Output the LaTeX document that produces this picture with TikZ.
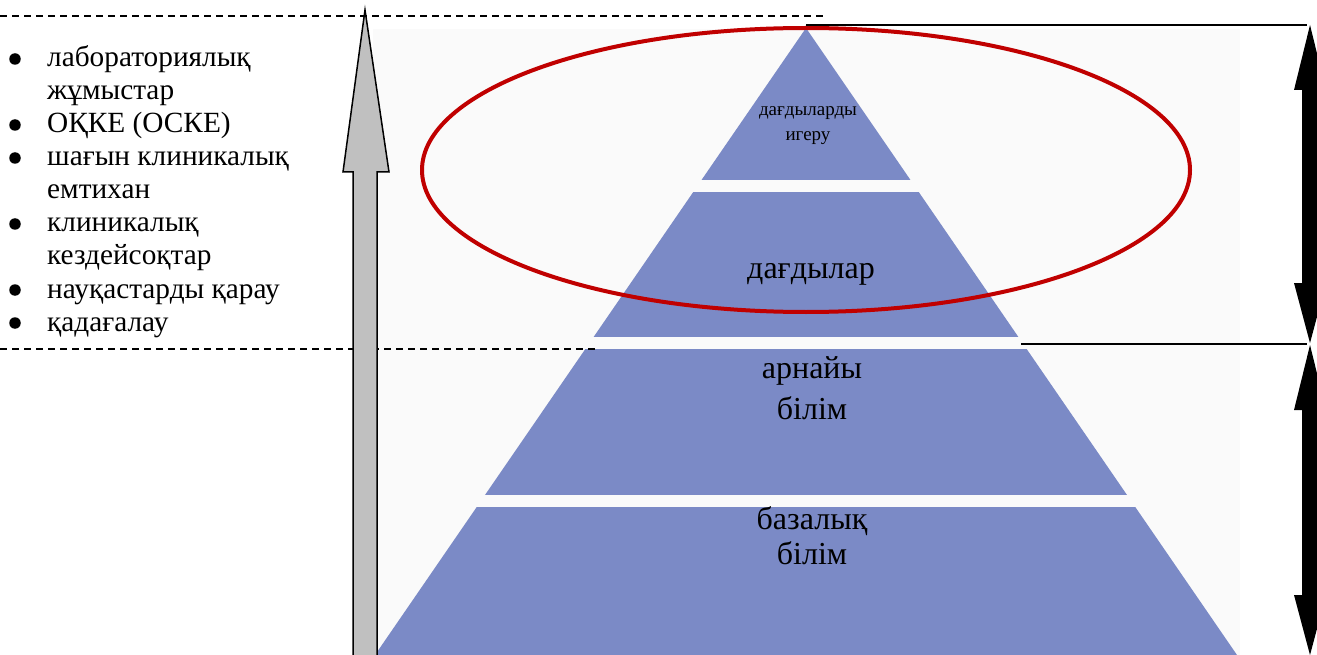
\documentclass[tikz,border=0pt]{standalone}
\usepackage{fontspec}
\setmainfont{Liberation Serif}
\definecolor{pyrblue}{RGB}{123,138,198}
\definecolor{ellred}{RGB}{192,0,0}
\definecolor{arrgray}{RGB}{192,192,192}
\definecolor{bgpale}{RGB}{250,250,250}
\begin{document}
\begin{tikzpicture}[x=1pt,y=-1pt,
  listtxt/.style={font=\fontsize{29.3}{31}\selectfont, anchor=base west, inner sep=0pt},
  pyrtxt/.style={font=\fontsize{32}{34}\selectfont, anchor=base, inner sep=0pt},
  smalltxt/.style={font=\fontsize{19}{21}\selectfont, anchor=base, inner sep=0pt},
  dashline/.style={black, line width=1.3pt, dash pattern=on 7pt off 5pt},
  bul/.style={fill=black, circle, inner sep=0pt, minimum size=11.5pt},
  blockarrow/.style={fill=black},
  thinline/.style={black, line width=1.6pt}]
\useasboundingbox (0,0) rectangle (1317,655);
% pale background behind pyramid
\fill[bgpale] (373,29) rectangle (1240,655);
% pyramid layers
\begin{scope}
  \clip (806,28) -- (375,655) -- (1237,655) -- cycle;
  \fill[pyrblue] (300,20) rectangle (1300,180);
  \fill[pyrblue] (300,192) rectangle (1300,337);
  \fill[pyrblue] (300,349) rectangle (1300,495);
  \fill[pyrblue] (300,507) rectangle (1300,660);
\end{scope}
% pyramid texts
\node[smalltxt] (t1a) at (808,116) {дағдыларды};
\node[smalltxt] (t1b) at (808,141) {игеру};
\node[pyrtxt] (t2) at (811,278) {дағдылар};
\node[pyrtxt] (t3a) at (812,378) {арнайы};
\node[pyrtxt] (t3b) at (812,419) {білім};
\node[pyrtxt] (t4a) at (812,529) {базалық};
\node[pyrtxt] (t4b) at (812,564) {білім};
% red ellipse
\draw[ellred, line width=4pt] (806,170) ellipse [x radius=384, y radius=142];
% dashed lines
\coordinate (d1a) at (0,16);
\coordinate (d1b) at (825,16);
\coordinate (d2a) at (0,349);
\coordinate (d2b) at (595,349);
\draw[dashline] (d1a) -- (d1b);
\draw[dashline] (d2a) -- (d2b);
% big gray arrow
\filldraw[fill=arrgray, draw=black, line width=1.5pt, line join=miter]
  (353,660) -- (353,172) -- (343,172) -- (365,10) -- (389,172) -- (377,172) -- (377,660);
% right horizontal lines
\coordinate (h1a) at (806,25);
\coordinate (h1b) at (1307,25);
\coordinate (h2a) at (1021,344);
\coordinate (h2b) at (1307,344);
\draw[thinline] (h1a) -- (h1b);
\draw[thinline] (h2a) -- (h2b);
% right double arrows
\fill[blockarrow] (1310,25) -- (1326,90) -- (1318,90) -- (1318,283) -- (1326,283) -- (1310,343)
  -- (1294,283) -- (1302,283) -- (1302,90) -- (1294,90) -- cycle;
\fill[blockarrow] (1310,345) -- (1326,410) -- (1318,410) -- (1318,595) -- (1326,595) -- (1310,655)
  -- (1294,595) -- (1302,595) -- (1302,410) -- (1294,410) -- cycle;
% bullet list
\node[listtxt] (l1) at (47,67) {лабораториялық};
\node[listtxt] (l2) at (47,100) {жұмыстар};
\node[listtxt] (l3) at (47,133) {ОҚКЕ (ОСКЕ)};
\node[listtxt] (l4) at (47,166) {шағын клиникалық};
\node[listtxt] (l5) at (47,199) {емтихан};
\node[listtxt] (l6) at (47,232) {клиникалық};
\node[listtxt] (l7) at (47,265) {кездейсоқтар};
\node[listtxt] (l8) at (47,298) {науқастарды қарау};
\node[listtxt] (l9) at (47,331) {қадағалау};
\node[bul] (b1) at (15,59) {};
\node[bul] (b2) at (15,125) {};
\node[bul] (b3) at (15,158) {};
\node[bul] (b4) at (15,224) {};
\node[bul] (b5) at (15,290) {};
\node[bul] (b6) at (15,323) {};
\end{tikzpicture}
\end{document}
